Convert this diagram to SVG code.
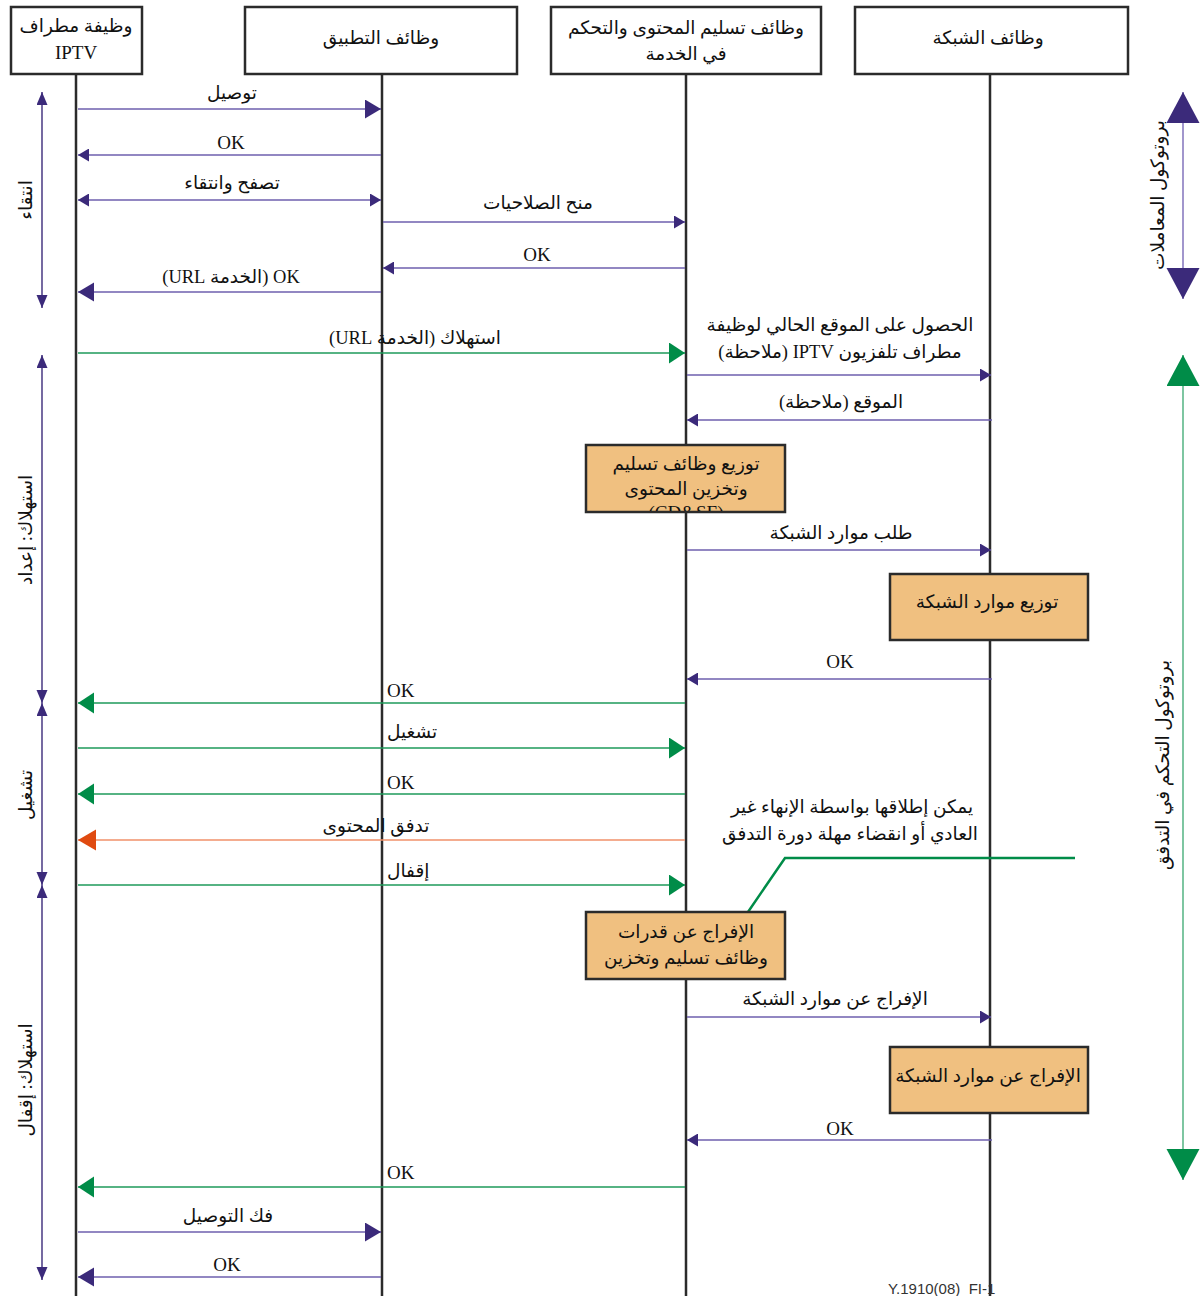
<svg xmlns="http://www.w3.org/2000/svg" width="1200" height="1296" viewBox="0 0 1200 1296">
<style>
text{font-family:"Liberation Serif","DejaVu Sans",serif;font-size:18.5px;fill:#111;}
.m{text-anchor:middle;}
.s{text-anchor:start;}
.lat{font-size:19px;}
.hdr{fill:#fff;stroke:#2b2b2b;stroke-width:2.5;}
.box{fill:#F0C080;stroke:#2b2b2b;stroke-width:2.5;}
.life{stroke:#2b2b2b;stroke-width:2.5;fill:none;}
.p{stroke:#6E5FAE;stroke-width:1.4;fill:none;}
.g{stroke:#1E9A5A;stroke-width:1.4;fill:none;}
.o{stroke:#F0906A;stroke-width:1.6;fill:none;}
.side{stroke:#3B2A7A;stroke-width:1.4;fill:none;}
.foot{font-family:"Liberation Sans",Arial,sans-serif;font-size:15px;fill:#333;}
</style>
<defs>
<marker id="pb" markerUnits="userSpaceOnUse" markerWidth="17" markerHeight="20" refX="16" refY="9.5" orient="auto-start-reverse"><path d="M0,0 L16,9.5 L0,19 z" fill="#3B2A7A"/></marker>
<marker id="ps" markerUnits="userSpaceOnUse" markerWidth="12" markerHeight="13" refX="11" refY="6.5" orient="auto-start-reverse"><path d="M0,0 L11,6.5 L0,13 z" fill="#3B2A7A"/></marker>
<marker id="gb" markerUnits="userSpaceOnUse" markerWidth="17" markerHeight="22" refX="16" refY="10.5" orient="auto-start-reverse"><path d="M0,0 L16,10.5 L0,21 z" fill="#008C48"/></marker>
<marker id="ob" markerUnits="userSpaceOnUse" markerWidth="19" markerHeight="22" refX="18" refY="10.5" orient="auto-start-reverse"><path d="M0,0 L18,10.5 L0,21 z" fill="#E04A10"/></marker>
<marker id="sm" markerUnits="userSpaceOnUse" markerWidth="14" markerHeight="12" refX="13" refY="5.5" orient="auto-start-reverse"><path d="M0,0 L13,5.5 L0,11 z" fill="#3B2A7A"/></marker>
<marker id="rp" markerUnits="userSpaceOnUse" markerWidth="32" markerHeight="34" refX="31" refY="16.5" orient="auto-start-reverse"><path d="M0,0 L31,16.5 L0,33 z" fill="#3B2A7A"/></marker>
<marker id="rg" markerUnits="userSpaceOnUse" markerWidth="32" markerHeight="34" refX="31" refY="16.5" orient="auto-start-reverse"><path d="M0,0 L31,16.5 L0,33 z" fill="#008C48"/></marker>
<clipPath id="c1"><rect x="587" y="446" width="197" height="65"/></clipPath>
</defs>

<g id="lifelines">
<line class="life" x1="76" y1="74" x2="76" y2="1296"/>
<line class="life" x1="382" y1="74" x2="382" y2="1296"/>
<line class="life" x1="686" y1="74" x2="686" y2="1296"/>
<line class="life" x1="990" y1="74" x2="990" y2="1296"/>
</g>

<g id="terminal">
<rect class="hdr" x="11" y="7" width="131" height="67"/>
<text class="m" x="76" y="32">وظيفة مطراف</text>
<text class="m lat" x="76" y="59">IPTV</text>
</g>
<g id="application">
<rect class="hdr" x="245" y="7" width="272" height="67"/>
<text class="m" x="381" y="44">وظائف التطبيق</text>
</g>
<g id="content-delivery">
<rect class="hdr" x="551" y="7" width="270" height="67"/>
<text class="m" x="686" y="34">وظائف تسليم المحتوى والتحكم</text>
<text class="m" x="686" y="60">في الخدمة</text>
</g>
<g id="network">
<rect class="hdr" x="855" y="7" width="273" height="67"/>
<text class="m" x="988" y="44">وظائف الشبكة</text>
</g>

<g id="connectors">
<line class="p" x1="78" y1="109" x2="381" y2="109" marker-end="url(#pb)"/>
<line class="p" x1="381" y1="155" x2="78" y2="155" marker-end="url(#ps)"/>
<line class="p" x1="78" y1="200" x2="381" y2="200" marker-start="url(#ps)" marker-end="url(#ps)"/>
<line class="p" x1="383" y1="222" x2="685" y2="222" marker-end="url(#ps)"/>
<line class="p" x1="685" y1="268" x2="383" y2="268" marker-end="url(#ps)"/>
<line class="p" x1="381" y1="292" x2="78" y2="292" marker-end="url(#pb)"/>
<line class="g" x1="78" y1="353" x2="685" y2="353" marker-end="url(#gb)"/>
<line class="p" x1="687" y1="375" x2="991" y2="375" marker-end="url(#ps)"/>
<line class="p" x1="992" y1="420" x2="687" y2="420" marker-end="url(#ps)"/>
<line class="p" x1="687" y1="550" x2="991" y2="550" marker-end="url(#ps)"/>
<line class="p" x1="992" y1="679" x2="687" y2="679" marker-end="url(#ps)"/>
<line class="g" x1="685" y1="703" x2="78" y2="703" marker-end="url(#gb)"/>
<line class="g" x1="78" y1="748" x2="685" y2="748" marker-end="url(#gb)"/>
<line class="g" x1="685" y1="794" x2="78" y2="794" marker-end="url(#gb)"/>
<line class="o" x1="685" y1="840" x2="78" y2="840" marker-end="url(#ob)"/>
<line class="g" x1="78" y1="885" x2="685" y2="885" marker-end="url(#gb)"/>
<line class="p" x1="687" y1="1017" x2="991" y2="1017" marker-end="url(#ps)"/>
<line class="p" x1="992" y1="1140" x2="687" y2="1140" marker-end="url(#ps)"/>
<line class="g" x1="685" y1="1187" x2="78" y2="1187" marker-end="url(#gb)"/>
<line class="p" x1="78" y1="1232" x2="381" y2="1232" marker-end="url(#pb)"/>
<line class="p" x1="381" y1="1277" x2="78" y2="1277" marker-end="url(#pb)"/>
<polyline points="748,912 785,858 1075,858" fill="none" stroke="#008C48" stroke-width="2.5"/>
<line class="side" x1="42" y1="92" x2="42" y2="308" marker-start="url(#sm)" marker-end="url(#sm)"/>
<line class="side" x1="42" y1="355" x2="42" y2="703" marker-start="url(#sm)" marker-end="url(#sm)"/>
<line class="side" x1="42" y1="703" x2="42" y2="885" marker-start="url(#sm)" marker-end="url(#sm)"/>
<line class="side" x1="42" y1="885" x2="42" y2="1280" marker-start="url(#sm)" marker-end="url(#sm)"/>
<line stroke="#8A7CC0" stroke-width="1.6" x1="1183" y1="92" x2="1183" y2="299" marker-start="url(#rp)" marker-end="url(#rp)"/>
<line stroke="#5DB88A" stroke-width="1.6" x1="1183" y1="355" x2="1183" y2="1180" marker-start="url(#rg)" marker-end="url(#rg)"/>
</g>

<g id="labels">
<text class="m" x="232" y="99">توصيل</text>
<text class="m lat" x="231" y="149">OK</text>
<text class="m" x="232" y="189">تصفح وانتقاء</text>
<text class="m" x="538" y="209">منح الصلاحيات</text>
<text class="m lat" x="537" y="261">OK</text>
<text class="m" x="231" y="283" direction="rtl">OK (الخدمة URL)</text>
<text class="m" x="415" y="344" direction="rtl">استهلاك (الخدمة URL)</text>
<text class="m" x="840" y="331">الحصول على الموقع الحالي لوظيفة</text>
<text class="m" x="840" y="358" direction="rtl">مطراف تلفزيون IPTV (ملاحظة)</text>
<text class="m" x="841" y="408" direction="rtl">الموقع (ملاحظة)</text>
<text class="m" x="841" y="539">طلب موارد الشبكة</text>
<text class="m lat" x="840" y="668">OK</text>
<text class="s lat" x="387" y="697">OK</text>
<text class="s" x="387" y="738">تشغيل</text>
<text class="s lat" x="387" y="789">OK</text>
<text class="m" x="376" y="832">تدفق المحتوى</text>
<text class="s" x="387" y="877">إقفال</text>
<text class="m" x="852" y="813">يمكن إطلاقها بواسطة الإنهاء غير</text>
<text class="m" x="850" y="840">العادي أو انقضاء مهلة دورة التدفق</text>
<text class="m" x="835" y="1005">الإفراج عن موارد الشبكة</text>
<text class="m lat" x="840" y="1135">OK</text>
<text class="s lat" x="387" y="1179">OK</text>
<text class="m" x="228" y="1222">فك التوصيل</text>
<text class="m lat" x="227" y="1271">OK</text>
<text class="m" x="32" y="200" transform="rotate(-90 32 200)">انتقاء</text>
<text class="m" x="32" y="530" transform="rotate(-90 32 530)">استهلاك: إعداد</text>
<text class="m" x="32" y="795" transform="rotate(-90 32 795)">تشغيل</text>
<text class="m" x="32" y="1080" transform="rotate(-90 32 1080)">استهلاك: إقفال</text>
<text class="m" x="1164" y="195" transform="rotate(-90 1164 195)">بروتوكول المعاملات</text>
<text class="m" x="1169" y="765" transform="rotate(-90 1169 765)">بروتوكول التحكم في التدفق</text>
<text class="foot" x="888" y="1294">Y.1910(08)_FI-1</text>
</g>

<g id="cdsf-distribute">
<rect class="box" x="586" y="445" width="199" height="67"/>
<text class="m" x="686" y="470">توزيع وظائف تسليم</text>
<text class="m" x="686" y="495">وتخزين المحتوى</text>
<text class="m lat" x="686" y="519" clip-path="url(#c1)">(CD&amp;SF)</text>
</g>
<g id="net-distribute">
<rect class="box" x="890" y="574" width="198" height="66"/>
<text class="m" x="987" y="608">توزيع موارد الشبكة</text>
</g>
<g id="cdsf-release">
<rect class="box" x="586" y="912" width="199" height="67"/>
<text class="m" x="686" y="938">الإفراج عن قدرات</text>
<text class="m" x="686" y="964">وظائف تسليم وتخزين</text>
</g>
<g id="net-release">
<rect class="box" x="890" y="1047" width="198" height="66"/>
<text class="m" x="988" y="1082">الإفراج عن موارد الشبكة</text>
</g>
</svg>
